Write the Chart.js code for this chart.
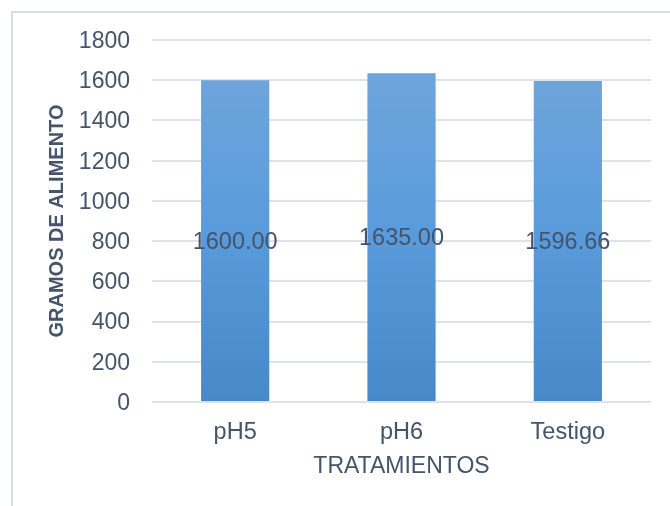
<!DOCTYPE html>
<html>
<head>
<meta charset="utf-8">
<script src="https://cdn.jsdelivr.net/npm/chart.js@4.4.0/dist/chart.umd.min.js"></script>
<style>
  html, body { margin: 0; padding: 0; background: #fff; }
  #wrap { width: 670px; height: 506px; position: relative; }
</style>
</head>
<body>
<div id="wrap"><canvas id="chart" width="670" height="506"></canvas></div>
<script>
const categories = ['pH5', 'pH6', 'Testigo'];
const values = [1600.00, 1635.00, 1596.66];
const yTicks = [0, 200, 400, 600, 800, 1000, 1200, 1400, 1600, 1800];

const textColor = '#44546A';
const gridColor = '#dfe3e9';
const fontFamily = '"Liberation Sans", Arial, sans-serif';

// marco exterior del gráfico
const framePlugin = {
    id: 'frame',
    beforeDraw(chart) {
        const ctx = chart.ctx;
        ctx.save();
        ctx.strokeStyle = '#d9dde3';
        ctx.lineWidth = 2;
        ctx.strokeRect(12, 12, 700, 520);
        ctx.restore();
    }
};

// etiquetas de valor en el centro de cada barra
const labelPlugin = {
    id: 'barLabels',
    afterDatasetsDraw(chart) {
        const ctx = chart.ctx;
        const meta = chart.getDatasetMeta(0);
        ctx.save();
        ctx.font = '23.5px ' + fontFamily;
        ctx.fillStyle = textColor;
        ctx.textAlign = 'center';
        ctx.textBaseline = 'middle';
        meta.data.forEach((bar, i) => {
            const y = (bar.y + bar.base) / 2 + 1.5;
            ctx.fillText(values[i].toFixed(2), bar.x, y);
        });
        ctx.restore();
    }
};

function barGradient(context) {
    const chart = context.chart;
    const area = chart.chartArea;
    if (!area) return '#5b9bd5';
    const g = chart.ctx.createLinearGradient(0, area.top, 0, area.bottom);
    g.addColorStop(0, '#73a7db');
    g.addColorStop(0.5, '#5b9cdc');
    g.addColorStop(1, '#4788c8');
    return g;
}

new Chart(document.getElementById('chart'), {
    type: 'bar',
    data: {
        labels: categories,
        datasets: [{
            data: values,
            backgroundColor: barGradient,
            borderWidth: 0,
            barPercentage: 0.41,
            categoryPercentage: 1
        }]
    },
    options: {
        responsive: false,
        animation: false,
        layout: { padding: { left: 0, right: 19, top: 40, bottom: 0 } },
        plugins: {
            legend: { display: false },
            tooltip: { enabled: false }
        },
        scales: {
            x: {
                grid: { display: false, drawTicks: false },
                border: { display: false },
                ticks: {
                    color: textColor,
                    padding: 16,
                    font: { family: fontFamily, size: 23.5 }
                },
                title: {
                    display: true,
                    text: 'TRATAMIENTOS',
                    color: textColor,
                    padding: { top: 0, bottom: 25.5 },
                    font: { family: fontFamily, size: 23 }
                },
                afterFit(scale) { scale.height = 104; }
            },
            y: {
                min: 0,
                max: 1800,
                afterBuildTicks(scale) {
                    scale.ticks = yTicks.map(v => ({ value: v }));
                },
                grid: { color: gridColor, lineWidth: 2, drawTicks: false },
                border: { display: false },
                ticks: {
                    color: textColor,
                    padding: 22,
                    labelOffset: 1.5,
                    font: { family: fontFamily, size: 23 },
                    callback: (v) => String(v)
                },
                title: {
                    display: true,
                    text: 'GRAMOS DE ALIMENTO',
                    color: textColor,
                    padding: { top: 45, bottom: 0 },
                    font: { family: fontFamily, size: 20, weight: 'bold' }
                },
                afterFit(scale) { scale.width = 152; }
            }
        }
    },
    plugins: [framePlugin, labelPlugin]
});
</script>
</body>
</html>
